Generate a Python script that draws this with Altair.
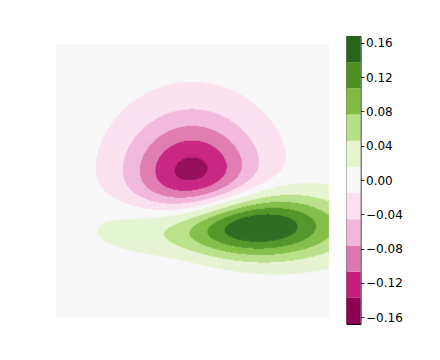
import numpy as np
import pandas as pd
import altair as alt

# ---- data ----
# two bivariate normal components (centre, spread, sign) of the field
COMP_MU_X = [0.0, 1.0]
COMP_MU_Y = [0.0, -1.0]
COMP_SIG_X = [1.0, 1.5]
COMP_SIG_Y = [1.0, 0.5]
COMP_SIGN = [-1.0, 1.0]
X_RANGE = [-3.0, 3.0]
Y_RANGE = [-3.0, 3.0]

# contour levels (11 filled bands) and colourbar ticks
LEVELS = [-0.168, -0.1375, -0.1069, -0.0764, -0.0458, -0.0153,
          0.0153, 0.0458, 0.0764, 0.1069, 0.1375, 0.168]
CBAR_TICKS = [-0.16, -0.12, -0.08, -0.04, 0.0, 0.04, 0.08, 0.12, 0.16]

# PiYG colours, one per band
BAND_COLORS = ["#8e0152", "#c51b7d", "#de77ae", "#f1b6da", "#fde0ef", "#f7f7f7",
               "#e6f5d0", "#b8e186", "#7fbc41", "#4d9221", "#276419"]

nb = len(LEVELS) - 1
BAND_IDS = list(range(nb))
ZERO_BAND = 5  # band containing 0, fills the plot area background

# ---- field on a fine grid, turned into run-length rectangles ----
NX, NY = 544, 272
xe = np.linspace(X_RANGE[0], X_RANGE[1], NX + 1)
ye = np.linspace(Y_RANGE[0], Y_RANGE[1], NY + 1)
xc = 0.5 * (xe[:-1] + xe[1:])
yc = 0.5 * (ye[:-1] + ye[1:])
X, Y = np.meshgrid(xc, yc)
Z = np.zeros_like(X)
for mx, my, sx, sy, sg in zip(COMP_MU_X, COMP_MU_Y, COMP_SIG_X, COMP_SIG_Y, COMP_SIGN):
    Z += sg * np.exp(-0.5 * ((X - mx) ** 2 / sx ** 2 + (Y - my) ** 2 / sy ** 2)) / (2 * np.pi * sx * sy)
B = np.clip(np.digitize(Z, LEVELS) - 1, 0, nb - 1)

rows = [{"x": X_RANGE[0], "x2": X_RANGE[1], "y": Y_RANGE[0], "y2": Y_RANGE[1], "band": ZERO_BAND}]
for j in range(NY):
    r = B[j]
    start = 0
    for i in range(1, NX + 1):
        if i == NX or r[i] != r[start]:
            if r[start] != ZERO_BAND:
                rows.append({"x": xe[start], "x2": xe[i], "y": ye[j], "y2": ye[j + 1], "band": int(r[start])})
            start = i
field = pd.DataFrame(rows)

cscale = alt.Scale(domain=BAND_IDS, range=BAND_COLORS)

# main panel: plot area occupies offsets 8.3..280.7 of a 288px tall view
px_per_unit = 272.4 / 6.0
ydom = [Y_RANGE[0] - 7.3 / px_per_unit, Y_RANGE[1] + 8.3 / px_per_unit]

main = alt.Chart(field).mark_rect(strokeWidth=0.5, opacity=1).encode(
    x=alt.X("x:Q", scale=alt.Scale(domain=X_RANGE, nice=False, zero=False), axis=None),
    x2="x2",
    y=alt.Y("y:Q", scale=alt.Scale(domain=ydom, nice=False, zero=False), axis=None),
    y2="y2",
    fill=alt.Fill("band:O", scale=cscale, legend=None),
    stroke=alt.Stroke("band:O", scale=cscale, legend=None),
).properties(width=272.6, height=288)

cb = pd.DataFrame({"lo": LEVELS[:-1], "hi": LEVELS[1:], "band": BAND_IDS})
cbar = alt.Chart(cb).mark_rect(opacity=1).encode(
    x=alt.value(0),
    x2=alt.value(14),
    y=alt.Y("lo:Q", scale=alt.Scale(domain=[LEVELS[0], LEVELS[-1]], nice=False, zero=False),
            axis=alt.Axis(orient="right", values=CBAR_TICKS, format=".2f", title=None,
                          grid=False, domain=False, tickSize=3.5, tickWidth=0.8,
                          tickColor="black", labelColor="black", labelFont="DejaVu Sans",
                          labelFontSize=12, labelPadding=1.5)),
    y2="hi",
    fill=alt.Fill("band:O", scale=cscale, legend=None),
).properties(width=14, height=288,
             view=alt.ViewBackground(stroke="black", strokeWidth=1))

chart = alt.hconcat(main, cbar, spacing=16.5).properties(
    padding={"left": 47, "top": 27, "right": 0, "bottom": 0},
    background="white",
).configure_view(stroke=None)

chart.save("out.html", embed_options={"renderer": "svg", "actions": False})
